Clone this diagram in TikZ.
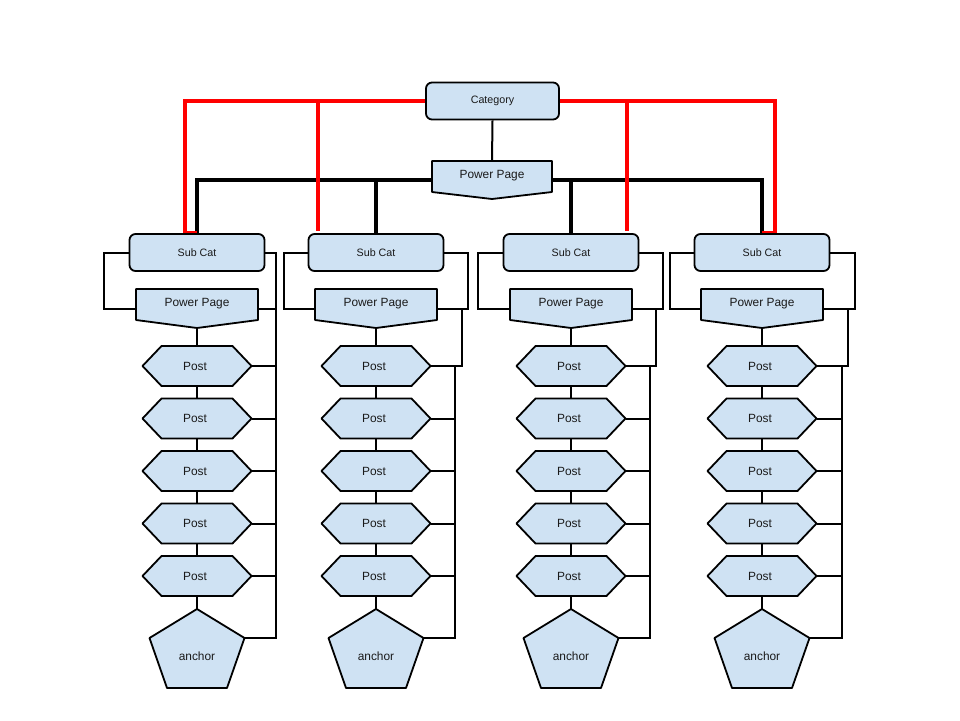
\documentclass[tikz,border=0pt]{standalone}
\usepackage{fontspec}
\setmainfont{Liberation Sans}
\usetikzlibrary{calc}
\definecolor{boxblue}{HTML}{CFE2F3}
\definecolor{txt}{HTML}{1A1A1A}
\pgfdeclarelayer{bg}
\pgfsetlayers{bg,main}
\tikzset{
  shp/.style={draw=black, line width=1.8pt, fill=boxblue, line join=round},
  rbox/.style={shp, rounded corners=6pt, inner sep=0pt, minimum height=37pt,
    text=txt, font=\fontsize{10.7}{12}\selectfont},
  holder/.style={inner sep=0pt, outer sep=0pt},
  lbl/.style={inner sep=0pt, text=txt, font=\fontsize{11.9}{13}\selectfont},
  conn/.style={draw=black, line width=2pt},
  thickconn/.style={draw=black, line width=4pt},
  redconn/.style={draw=red, line width=4pt}
}
\begin{document}
\begin{tikzpicture}[x=1pt,y=-1pt]
\useasboundingbox (0,0) rectangle (960,720);
% top level
\node[rbox, minimum width=133pt] (cat) at (492.5,101) {Category};
\node[holder, minimum width=120pt, minimum height=38pt] (tpp) at (492,180) {};
\draw[shp] (tpp.north west) -- (tpp.north east) -- ($(tpp.south east)+(0,-7)$)
  -- (tpp.south) -- ($(tpp.south west)+(0,-7)$) -- cycle;
\node[lbl] (tppt) at ($(tpp.center)+(0,-4)$) {Power Page};

\foreach \c/\cx/\lb/\ra/\rb/\rc in {1/197/104/276/276/276, 2/376/284/468/462/455, 3/571/478/663/656/650, 4/762/670/855/848/842}{
  % Sub Cat
  \node[rbox, minimum width=135pt] (sc\c) at (\cx,252.5) {Sub Cat};
  % Power Page
  \node[holder, minimum width=122pt, minimum height=39pt] (pp\c) at (\cx,308.5) {};
  \draw[shp] (pp\c.north west) -- (pp\c.north east) -- ($(pp\c.south east)+(0,-8)$)
    -- (pp\c.south) -- ($(pp\c.south west)+(0,-8)$) -- cycle;
  \node[lbl] (ppt\c) at ($(pp\c.center)+(0,-4.5)$) {Power Page};
  % Posts
  \foreach \k/\py in {1/366,2/418.5,3/471,4/523.5,5/576}{
    \node[holder, minimum width=109pt, minimum height=40pt] (p\c\k) at (\cx,\py) {};
    \draw[shp] (p\c\k.west) -- ($(p\c\k.north west)+(19,0)$) -- ($(p\c\k.north east)+(-19,0)$)
      -- (p\c\k.east) -- ($(p\c\k.south east)+(-19,0)$) -- ($(p\c\k.south west)+(19,0)$) -- cycle;
    \node[lbl] (pt\c\k) at ($(p\c\k.center)+(-2,0)$) {Post};
  }
  % anchor pentagon
  \node[holder, minimum width=95pt, minimum height=79pt] (an\c) at (\cx,648.5) {};
  \coordinate (ar\c) at ($(an\c.north east)+(0,29)$);
  \coordinate (al\c) at ($(an\c.north west)+(0,29)$);
  \draw[shp] (an\c.north) -- (ar\c) -- ($(an\c.south)+(30,0)$) -- ($(an\c.south)+(-30,0)$)
    -- (al\c) -- cycle;
  \node[lbl] (ant\c) at (\cx,656) {anchor};
  % connectors
  \coordinate (lbx\c) at (\lb,0);
  \coordinate (rax\c) at (\ra,0);
  \coordinate (rbx\c) at (\rb,0);
  \coordinate (rcx\c) at (\rc,0);
  \begin{pgfonlayer}{bg}
    \draw[conn] (sc\c.west) -| (lbx\c |- pp\c.west) -- (pp\c.west);
    \draw[conn] (sc\c.east) -| (rax\c |- pp\c.east) -- (pp\c.east);
    \draw[conn] (pp\c.east) -- (rbx\c |- pp\c.east) |- (p\c1.east);
    \draw[conn] (rcx\c |- p\c1.east) -- (rcx\c |- ar\c) -- (ar\c);
    \foreach \k in {2,3,4,5}{
      \draw[conn] (p\c\k.east) -- (rcx\c |- p\c\k.east);
    }
    \draw[conn] (pp\c.south) -- (p\c1.north);
    \draw[conn] (p\c1.south) -- (p\c2.north);
    \draw[conn] (p\c2.south) -- (p\c3.north);
    \draw[conn] (p\c3.south) -- (p\c4.north);
    \draw[conn] (p\c4.south) -- (p\c5.north);
    \draw[conn] (p\c5.south) -- (an\c.north);
  \end{pgfonlayer}
}

\begin{pgfonlayer}{bg}
  \draw[conn] (cat.south) -- (tpp.north);
  \draw[thickconn] (tpp.west) -| (sc1.north);
  \draw[thickconn] (tpp.west) -| (sc2.north);
  \draw[thickconn] (tpp.east) -| (sc3.north);
  \draw[thickconn] (tpp.east) -| (sc4.north);
  \draw[redconn] (cat.west) -| ($(sc1.north)+(-12,0)$) -- (sc1.north);
  \draw[redconn] (cat.west) -| ($(sc2.north)+(-58,-2)$);
  \draw[redconn] (cat.east) -| ($(sc3.north)+(56,-2)$);
  \draw[redconn] (cat.east) -| ($(sc4.north)+(13,0)$) -- (sc4.north);
\end{pgfonlayer}
\end{tikzpicture}
\end{document}
